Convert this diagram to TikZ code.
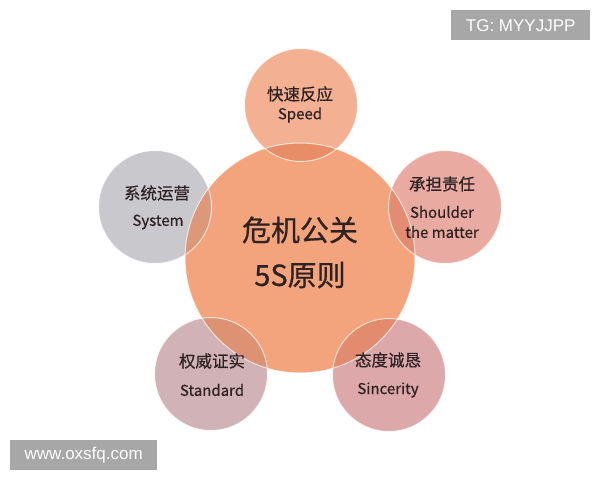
\documentclass[tikz,border=0pt]{standalone}
\usepackage{fontspec}
\newfontfamily\cjk{Noto Sans CJK SC}[FakeBold=0.6]
\newfontfamily\wm{Liberation Sans}
\definecolor{cmain}{HTML}{F4A47C}
\definecolor{ctop}{HTML}{F3B092}
\definecolor{cleft}{HTML}{C9C8CC}
\definecolor{cright}{HTML}{E8AAA1}
\definecolor{cbl}{HTML}{D0B2B7}
\definecolor{cbr}{HTML}{DCA8AA}
\definecolor{otop}{HTML}{E98D66}
\definecolor{oleft}{HTML}{DC9878}
\definecolor{oright}{HTML}{E38C71}
\definecolor{obl}{HTML}{DC9273}
\definecolor{obr}{HTML}{E28B6F}
\definecolor{txt}{HTML}{2E2222}
\definecolor{wmgray}{HTML}{A7A7A7}
\tikzset{
  circ/.style={circle, inner sep=0pt},
  sat/.style={circ, minimum size=113pt},
  edge/.style={draw=white, line width=1pt, opacity=0.7},
  zh/.style={text=txt, font=\cjk\fontsize{16.5}{20}\selectfont, inner sep=0pt},
  en/.style={text=txt, font=\cjk\fontsize{15}{18}\selectfont, inner sep=0pt},
  maintxt/.style={text=txt, font=\cjk\fontsize{29}{35}\selectfont, inner sep=0pt},
  wmbox/.style={fill=wmgray, text=white, font=\wm\fontsize{17}{20}\selectfont, inner sep=0pt, anchor=north west}
}
\begin{document}
\begin{tikzpicture}[x=1pt,y=-1pt]
\useasboundingbox (0,0) rectangle (600,480);
\fill[white] (0,0) rectangle (600,480);
% circles
\node[circ, fill=cmain, minimum size=230pt] (c) at (300,258) {};
\node[sat, fill=ctop] (s1) at (301,105) {};
\node[sat, fill=cleft] (s2) at (155,207) {};
\node[sat, fill=cright] (s3) at (445,207) {};
\node[sat, fill=cbl] (s4) at (211,374) {};
\node[sat, fill=cbr] (s5) at (389,375) {};
% overlaps
\begin{scope}
\clip (c) circle[radius=115pt];
\fill[otop] (s1) circle[radius=56.5pt];
\fill[oleft] (s2) circle[radius=56.5pt];
\fill[oright] (s3) circle[radius=56.5pt];
\fill[obl] (s4) circle[radius=56.5pt];
\fill[obr] (s5) circle[radius=56.5pt];
\end{scope}
% edges
\draw[edge] (c) circle[radius=115pt];
\foreach \s in {s1,s2,s3,s4,s5} \draw[edge] (\s) circle[radius=56.5pt];
% texts
\node[maintxt] (t0a) at (300,230) {危机公关};
\node[maintxt] (t0b) at (300,275) {5S原则};
\node[zh] (t1a) at (300,94) {快速反应};
\node[en] (t1b) at (300,115) {Speed};
\node[zh] (t2a) at (157,193) {系统运营};
\node[en] (t2b) at (158,222) {System};
\node[zh] (t3a) at (442,184) {承担责任};
\node[en] (t3b) at (442,212) {Shoulder};
\node[en] (t3c) at (442,232) {the matter};
\node[zh] (t4a) at (212,361) {权威证实};
\node[en] (t4b) at (212,390) {Standard};
\node[zh] (t5a) at (388,360) {态度诚恳};
\node[en] (t5b) at (388,390) {Sincerity};
% watermarks
\node[wmbox, minimum width=139pt, minimum height=30pt] (w1) at (451,10) {TG: MYYJJPP};
\node[wmbox, minimum width=147pt, minimum height=30pt] (w2) at (10,440) {www.oxsfq.com};
\end{tikzpicture}
\end{document}
